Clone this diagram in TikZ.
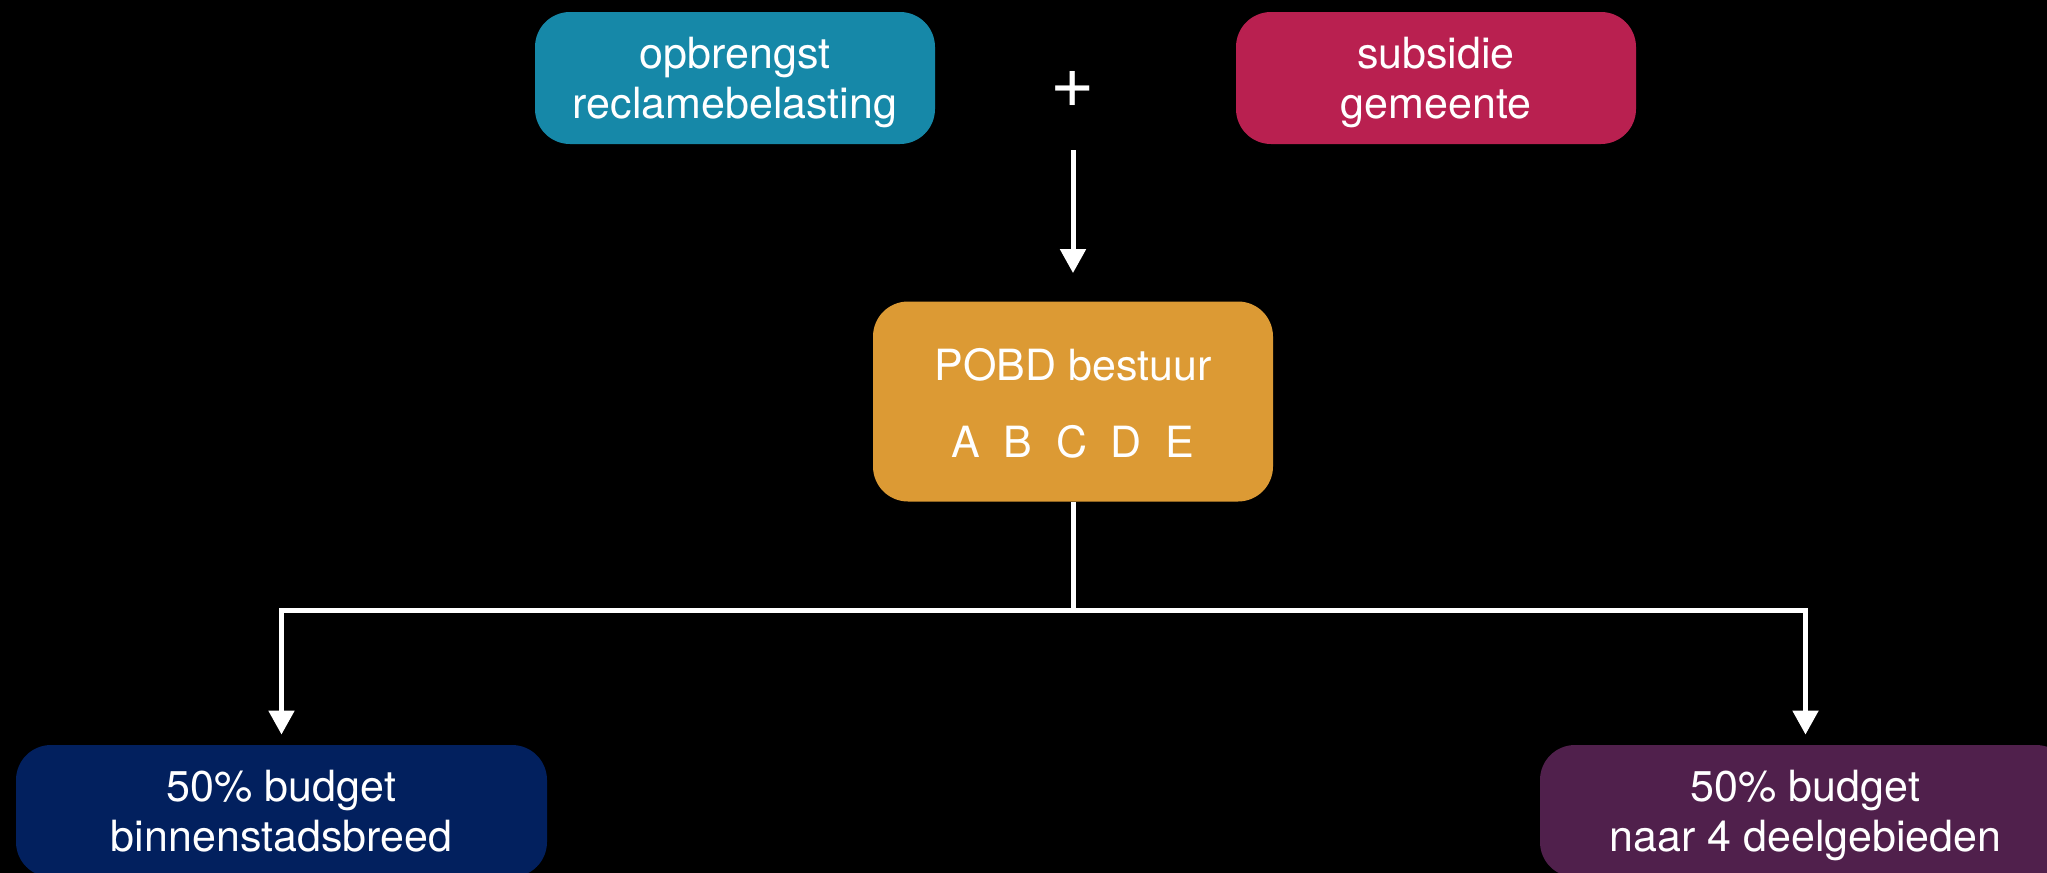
\documentclass[tikz,border=0pt]{standalone}
\usepackage{fontspec}
\setmainfont{TeX Gyre Heros}
\usetikzlibrary{arrows.meta}

\definecolor{reclameblue}{RGB}{22,136,168}
\definecolor{subsidiered}{RGB}{185,32,80}
\definecolor{bestuurorange}{RGB}{220,154,52}
\definecolor{stadnavy}{RGB}{2,32,94}
\definecolor{deelpurple}{RGB}{80,32,76}

\begin{document}
\begin{tikzpicture}[x=0.5pt, y=-0.5pt,
        box/.style={rounded corners=17.5pt, text=white, align=center, inner sep=0pt,
            text height=45pt, text depth=5pt, font=\fontsize{21.5}{25}\selectfont},
        topbox/.style={box, minimum width=200pt, minimum height=66pt},
        bottombox/.style={box, minimum width=265.5pt, minimum height=66pt},
        flow/.style={draw=white, line width=2.5pt},
        arrow/.style={flow, -{Triangle[width=12.5pt, length=12pt]}}]
        % Background
        \fill[black] (0,0) rectangle (2047,873);
        \useasboundingbox (0,0) rectangle (2047,873);

        % Sources on top
        \node[topbox, fill=reclameblue] (reclame) at (735,78) {opbrengst\\reclamebelasting};
        \node[topbox, fill=subsidiered] (subsidie) at (1436,78) {subsidie\\gemeente};
        \node[text=white, inner sep=0pt, font=\fontsize{38}{38}\selectfont] (plus) at (1073,89) {+};

        % Board in the middle
        \node[box, fill=bestuurorange, minimum width=200pt, minimum height=100pt,
            text height=56pt, text depth=0.5pt] (bestuur) at (1073,401.5)
            {POBD bestuur\\[13.5pt]A\hspace{0.55em}B\hspace{0.55em}C\hspace{0.55em}D\hspace{0.55em}E};

        % Budgets at the bottom
        \node[bottombox, fill=stadnavy] (binnen) at (281.5,811) {50\% budget\\binnenstadsbreed};
        \node[bottombox, fill=deelpurple] (deel) at (1805.5,811) {50\% budget\\naar 4 deelgebieden};

        % Arrows
        \coordinate (split) at (1073,610);
        \draw[arrow, shorten <=30.5pt, shorten >=14pt] (plus.center) -- (bestuur.north);
        \draw[flow] (bestuur.south) -- (split);
        \draw[arrow, shorten >=5pt] (split) -| (binnen.north);
        \draw[arrow, shorten >=5pt] (split) -| (deel.north);
    \end{tikzpicture}
\end{document}
